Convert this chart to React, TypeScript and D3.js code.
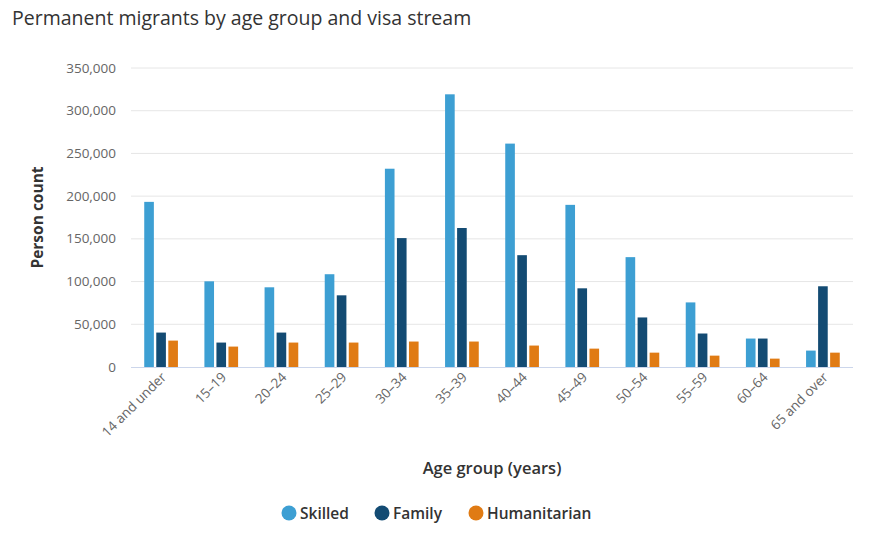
import * as d3 from 'd3'

const categories = ['14 and under', '15–19', '20–24', '25–29', '30–34', '35–39', '40–44', '45–49', '50–54', '55–59', '60–64', '65 and over']
const seriesNames = ['Skilled', 'Family', 'Humanitarian']
const skilled = [193300, 100300, 93300, 108600, 232100, 319200, 261500, 189800, 128600, 75600, 33300, 19200]
const family = [40300, 28600, 40300, 83900, 150900, 162700, 130900, 92100, 58000, 39200, 33300, 94500]
const humanitarian = [30900, 23900, 28600, 28600, 29800, 29800, 25100, 21500, 16800, 13300, 9800, 16800]
const yTicks = [0, 50000, 100000, 150000, 200000, 250000, 300000, 350000]
const colors = ['#3d9fd3', '#134b73', '#e07b14']

const W = 875
const H = 553
const font = '"Open Sans", "Noto Sans", sans-serif'

export default function App() {
  const series = [skilled, family, humanitarian]
  const left = 131
  const right = 853
  const top = 68
  const bottom = 367

  const x0 = d3.scaleBand<string>().domain(categories).range([left, right]).padding(0)
  const bw = x0.bandwidth()
  const x1 = d3.scaleBand<string>().domain(seriesNames).range([bw * 0.2, bw * 0.8])
  const y = d3.scaleLinear().domain([0, 350000]).range([bottom, top])
  const fmt = d3.format(',')

  const legendX = [289, 382, 476]

  return (
    <div style={{ position: 'absolute', left: 0, top: 0 }}>
      <svg width={W} height={H} style={{ fontFamily: font, display: 'block' }}>
        <rect width={W} height={H} fill="#fff" />
        <text x={12} y={25} fontSize={19.5} fill="#333">Permanent migrants by age group and visa stream</text>

        {yTicks.map(t => (
          <g key={t}>
            {t > 0 && <line x1={left} x2={right} y1={y(t)} y2={y(t)} stroke="#e6e6e6" strokeWidth={1} />}
            <text x={116} y={y(t) + 4.5} textAnchor="end" fontSize={13.5} fill="#666">{fmt(t)}</text>
          </g>
        ))}

        {categories.map((c, i) => (
          <g key={c}>
            {series.map((s, k) => (
              <rect
                key={k}
                x={(x0(c) as number) + (x1(seriesNames[k]) as number) + x1.bandwidth() * 0.1}
                y={y(s[i])}
                width={x1.bandwidth() * 0.8}
                height={bottom - y(s[i])}
                fill={colors[k]}
              />
            ))}
          </g>
        ))}

        <line x1={left} x2={right} y1={bottom + 0.5} y2={bottom + 0.5} stroke="#ccd6eb" strokeWidth={1} />

        {categories.map(c => {
          const cx = (x0(c) as number) + bw / 2 + 6
          const cy = bottom + 11
          return (
            <text key={c} x={cx} y={cy} textAnchor="end" fontSize={13.5} fill="#666" transform={`rotate(-45 ${cx} ${cy})`}>{c}</text>
          )
        })}

        <text x={(left + right) / 2} y={474} textAnchor="middle" fontSize={16.5} fontWeight={600} fill="#333">Age group (years)</text>
        <text transform={`translate(43 ${(top + bottom) / 2}) rotate(-90)`} textAnchor="middle" fontSize={15.5} fontWeight="bold" fill="#333">Person count</text>

        {seriesNames.map((n, k) => (
          <g key={n}>
            <circle cx={legendX[k]} cy={513} r={7.5} fill={colors[k]} />
            <text x={legendX[k] + 11} y={518.5} fontSize={15.5} fontWeight={600} fill="#333">{n}</text>
          </g>
        ))}
      </svg>
    </div>
  )
}
